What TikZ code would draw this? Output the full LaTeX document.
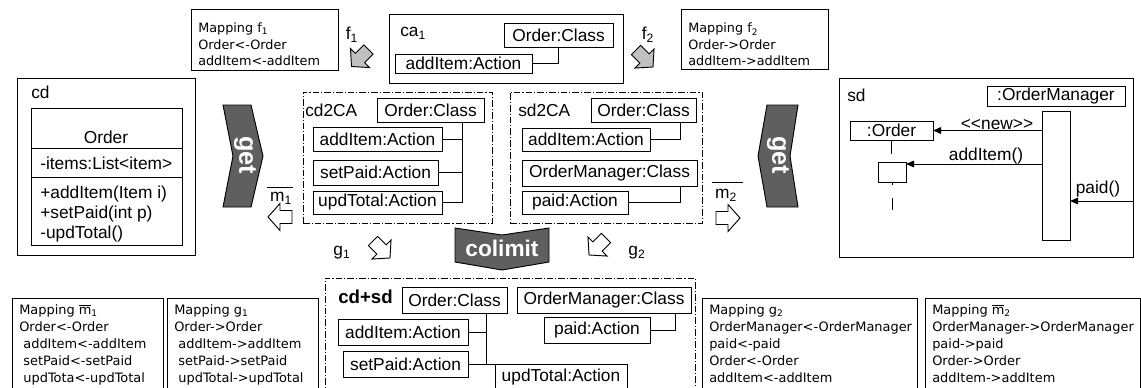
\documentclass[tikz,border=0pt]{standalone}
\usepackage{fontspec}
\setmainfont{Liberation Sans}
\newfontfamily\vfont{DejaVu Sans}
\usetikzlibrary{arrows.meta}
\definecolor{chevgray}{HTML}{5F5F5F}
\definecolor{fgray}{HTML}{C0C0C0}
\newcommand\uf{\fontsize{13}{15}\selectfont}
\newcommand\mf{\vfont\fontsize{9.6}{12.2}\selectfont}
\newcommand\bmf{\vfont\fontsize{9.7}{12.9}\selectfont}
\newcommand\pxbox[7][]{\node[ubox,#1,minimum width={(#5-#3)*0.75pt},minimum height={(#6-#4)*0.75pt}] (#2) at ({(#3+#5)/2},{(#4+#6)/2}) {#7};}
\newcommand\blockarr[4]{\draw[barrow,fill=#4,shift={(#1,#2)},rotate=#3] (12,0) -- (0,13.5) -- (0,6.5) -- (-12,6.5) -- (-12,-6.5) -- (0,-6.5) -- (0,-13.5) -- cycle;}
\begin{document}
\begin{tikzpicture}[x=0.75pt,y=-0.75pt,
  ubox/.style={draw,line width=0.7pt,inner sep=0pt,outer sep=0pt,font=\uf},
  lbl/.style={inner sep=0pt,font=\uf},
  mtxt/.style={inner sep=0pt,font=\mf,align=left,anchor=north west},
  bmtxt/.style={inner sep=0pt,font=\bmf,align=left,anchor=north west},
  conn/.style={line width=0.7pt},
  ddbox/.style={line width=0.6pt,dash pattern=on 5pt off 1.5pt on 0.8pt off 1.5pt},
  barrow/.style={draw,line width=0.7pt},
  chev/.style={draw,line width=0.7pt,fill=chevgray},
  chevtxt/.style={inner sep=0pt,text=white,font=\fontsize{19}{19}\selectfont\bfseries},
  msg/.style={line width=0.7pt,-{Triangle[length=6pt,width=5pt]}},
]
\useasboundingbox (0,0) rectangle (1141,387);
\fill[white] (0,0) rectangle (1141,387);
\clip (0,0) rectangle (1141,387);

% ---- top: mapping f1, ca1, mapping f2
\pxbox{mf1}{191}{9}{338}{70}{}
\node[mtxt] (mf1t) at ([shift={(7,14)}]mf1.north west) {Mapping f\textsubscript{1}\\Order<-Order\\addItem<-addItem};
\node[lbl] (f1l) at (352,35) {f\textsubscript{1}};
\blockarr{360}{58}{225}{fgray}

\pxbox{ca1}{389}{14}{623}{83}{}
\node[lbl,anchor=west] (ca1l) at (400,33) {ca\textsubscript{1}};
\pxbox{oc0}{504}{23}{613}{47}{Order:Class}
\pxbox{ai0}{395}{54}{532}{73}{addItem:Action}
\draw[conn] (558,0 |- oc0.south) |- (ai0.east);

\node[lbl] (f2l) at (648,35) {f\textsubscript{2}};
\blockarr{644.5}{58.5}{-45}{fgray}
\pxbox{mf2}{681}{9}{828}{69}{}
\node[mtxt] (mf2t) at ([shift={(7,14)}]mf2.north west) {Mapping f\textsubscript{2}\\Order->Order\\addItem->addItem};

% ---- cd class diagram
\pxbox{cd}{17}{78}{195}{255}{}
\node[lbl,anchor=west] (cdl) at (31,92) {cd};
\pxbox{cls}{31}{108}{182}{245}{}
\draw[conn] (cls.west |- 0,148) -- (cls.east |- 0,148);
\draw[conn] (cls.west |- 0,177) -- (cls.east |- 0,177);
\node[lbl] (clsname) at (106,137) {Order};
\node[lbl,anchor=west] (attr) at (40,163) {-items:List<item>};
\node[lbl,anchor=north west,align=left] (meths) at (40,186) {+addItem(Item i)\\+setPaid(int p)\\-updTotal()};

% ---- left get
\draw[chev] (223,105) -- (251,105) -- (263,156) -- (251,207) -- (223,207) -- (233,156) -- cycle;
\node[chevtxt,rotate=-90] (get1) at (245,155) {get};

% m1
\node[lbl] (m1l) at (281,198) {m\textsubscript{1}};
\draw[conn] (267,187) -- (293,187);
\blockarr{280}{217}{180}{white}

% ---- cd2CA
\pxbox[ddbox]{cdca}{303}{92}{492}{223}{}
\node[lbl,anchor=west] (cdcal) at (305,110) {cd2CA};
\pxbox{oc1}{377}{98}{484}{122}{Order:Class}
\pxbox{ai1}{313}{127}{442}{151}{addItem:Action}
\pxbox{sp1}{313}{160}{438}{185}{setPaid:Action}
\pxbox{ut1}{313}{191}{442}{214}{updTotal:Action}
\draw[conn] (462,0 |- oc1.south) |- (ut1.east);
\draw[conn] (ai1.east) -- (ai1.east -| 462,0);
\draw[conn] (sp1.east) -- (sp1.east -| 462,0);

% ---- sd2CA
\pxbox[ddbox]{sdca}{510}{92}{702}{223}{}
\node[lbl,anchor=west] (sdcal) at (518,110) {sd2CA};
\pxbox{oc2}{591}{98}{696}{122}{Order:Class}
\pxbox{ai2}{522}{128}{650}{151}{addItem:Action}
\pxbox{om2}{522}{160}{697}{186}{OrderManager:Class}
\pxbox{pa2}{522}{191}{628}{214}{paid:Action}
\draw[conn] (680,0 |- oc2.south) |- (ai2.east);
\draw[conn] (680,0 |- om2.south) |- (pa2.east);

% m2
\node[lbl] (m2l) at (726,195) {m\textsubscript{2}};
\draw[conn] (712,182) -- (743,182);
\blockarr{728}{218}{0}{white}

% ---- right get
\draw[chev] (767,105) -- (798,105) -- (790,156) -- (798,207) -- (767,207) -- (758,156) -- cycle;
\node[chevtxt,rotate=-90] (get2) at (778,155) {get};

% ---- sd sequence diagram
\pxbox{sd}{839}{78}{1133}{257}{}
\node[lbl,anchor=west] (sdl) at (847,95) {sd};
\pxbox{omgr}{987}{86}{1125}{106}{:OrderManager}
\pxbox{act}{1042}{111}{1070}{240}{}
\pxbox{ord}{850}{121}{933}{140}{:Order}
\pxbox{sm}{878}{162}{906}{182}{}
\draw[conn] (ord.south) -- ++(0,14);
\draw[conn] (sm.south) -- ++(0,3);
\draw[conn] (892,198) -- (892,210);
\draw[msg] (act.west |- ord.east) -- (ord.east);
\node[lbl] (newl) at (997,125) {<{}<new>{}>};
\draw[msg] (act.west |- 0,164) -- (sm.east |- 0,164);
\node[lbl] (addl) at (986,156) {addItem()};
\coordinate (pin) at (1133,201);
\draw[msg] (pin) -- (act.east |- pin);
\node[lbl] (paidl) at (1098,189) {paid()};

% ---- colimit
\node[lbl] (g1l) at (342,253) {g\textsubscript{1}};
\blockarr{381.5}{249.5}{-45}{white}
\draw[chev] (455,228) -- (502,235) -- (549,228) -- (549,262) -- (502,270) -- (455,262) -- cycle;
\node[chevtxt,font=\fontsize{17}{17}\selectfont\bfseries] (colim) at (502,248) {colimit};
\blockarr{597.5}{246.5}{225}{white}
\node[lbl] (g2l) at (637,253) {g\textsubscript{2}};

% ---- cd+sd
\pxbox[ddbox]{cdsd}{325}{278}{695}{400}{}
\node[lbl,anchor=west,font=\fontsize{14}{16}\selectfont\bfseries] (cdsdl) at (338,297) {cd+sd};
\pxbox{oc3}{402}{287}{507}{313}{Order:Class}
\pxbox{om3}{517}{287}{691}{313}{OrderManager:Class}
\pxbox{ai3}{338}{319}{468}{345}{addItem:Action}
\pxbox{sp3}{343}{351}{468}{377}{setPaid:Action}
\pxbox{ut3}{495}{364}{627}{390}{updTotal:Action}
\pxbox{pa3}{544}{317}{650}{343}{paid:Action}
\draw[conn] (486,0 |- oc3.south) -- (486,0 |- sp3.east);
\draw[conn] (ai3.east) -- (ai3.east -| 486,0);
\draw[conn] (sp3.east) -- (ut3.west |- sp3.east);
\draw[conn] (675,0 |- om3.south) |- (pa3.east);

% ---- bottom mappings
\pxbox{mm1}{12}{298}{163}{400}{}
\node[bmtxt] (mm1t) at ([shift={(7,6)}]mm1.north west) {Mapping $\overline{\hbox{m}}$\textsubscript{1}\\Order<-Order\\~addItem<-addItem\\~setPaid<-setPaid\\~updTota<-updTotal};
\pxbox{mg1}{167}{298}{318}{400}{}
\node[bmtxt] (mg1t) at ([shift={(7,6)}]mg1.north west) {Mapping g\textsubscript{1}\\Order->Order\\~addItem->addItem\\~setPaid->setPaid\\~updTotal->updTotal};
\pxbox{mg2}{702}{298}{917}{400}{}
\node[bmtxt] (mg2t) at ([shift={(7,6)}]mg2.north west) {Mapping g\textsubscript{2}\\OrderManager<-OrderManager\\paid<-paid\\Order<-Order\\addItem<-addItem};
\pxbox{mm2}{925}{298}{1140}{400}{}
\node[bmtxt] (mm2t) at ([shift={(7,6)}]mm2.north west) {Mapping $\overline{\hbox{m}}$\textsubscript{2}\\OrderManager->OrderManager\\paid->paid\\Order->Order\\addItem->addItem};
\end{tikzpicture}
\end{document}
